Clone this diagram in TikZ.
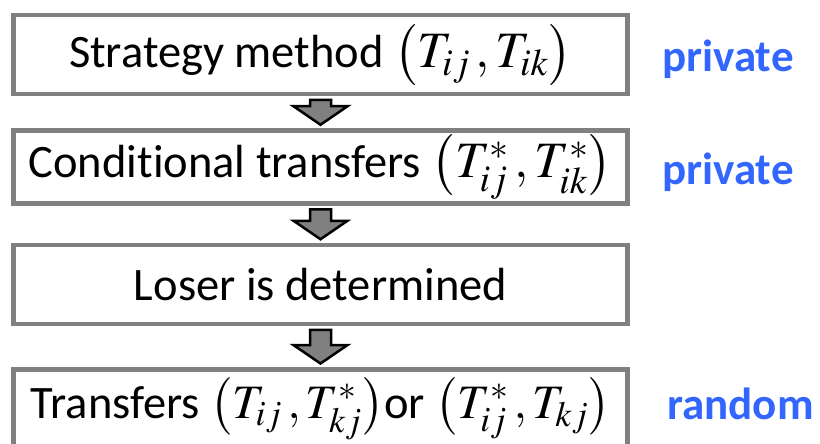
\documentclass[tikz,border=0pt]{standalone}
\usepackage{mathptmx}
\usepackage[no-math]{fontspec}
\setmainfont{Carlito}[Ligatures=NoCommon]
\usetikzlibrary{calc}
\definecolor{boxgray}{RGB}{128,128,128}
\definecolor{modeblue}{RGB}{51,102,255}
\tikzset{
  stage/.style={draw=boxgray, line width=4.5pt, minimum width=614pt, minimum height=79pt, inner sep=0pt, font=\fontsize{46.5}{56}\selectfont},
  mode/.style={text=modeblue, anchor=base west, font=\fontsize{45}{56}\selectfont\bfseries},
  flowarrow/.style={draw=black, line width=2.5pt, fill=boxgray, line join=miter}
}
% bigger math for the transfer pairs
\newcommand{\pair}[3][51]{{\fontsize{#1}{60}\selectfont$\bigl(#2\,,#3\bigr)$}}
% block arrow from one stage down to the next
\newcommand{\flowstep}[2]{%
  \draw[flowarrow] let \p1=(#1.south), \p2=(#2.north) in
    (\x1-10.5pt,\y1-3.5pt) -- (\x1+10.5pt,\y1-3.5pt) -- (\x1+10.5pt,\y2+22pt)
    -- (\x1+27pt,\y2+22pt) -- (\x1,\y2+3.5pt) -- (\x1-27pt,\y2+22pt)
    -- (\x1-10.5pt,\y2+22pt) -- cycle;}
\begin{document}
\begin{tikzpicture}[x=1pt,y=-1pt]
\useasboundingbox (0,0) rectangle (820,444);
% the four stages
\node[stage] (strategy) at (320.5,54.7) {Strategy method \pair{T_{ij}}{T_{ik}}};
\node[stage, minimum height=73pt] (conditional) at (320.5,167) {Conditional transfers \pair{T^{*}_{ij}}{T^{*}_{ik}}};
\node[stage] (loser) at (320.5,284.5) {Loser is determined};
\node[stage] (transfers) at (320.5,408.8) {Transfers \pair[48]{T_{ij}}{T^{*}_{kj}}or \pair[48]{T^{*}_{ij}}{T_{kj}}};
% arrows
\flowstep{strategy}{conditional}
\flowstep{conditional}{loser}
\flowstep{loser}{transfers}
% information
\node[mode] (info1) at ([shift={(29,17)}]strategy.east) {private};
\node[mode] (info2) at ([shift={(29,17)}]conditional.east) {private};
\node[mode] (info4) at ([shift={(34,11)}]transfers.east) {random};
\end{tikzpicture}
\end{document}
